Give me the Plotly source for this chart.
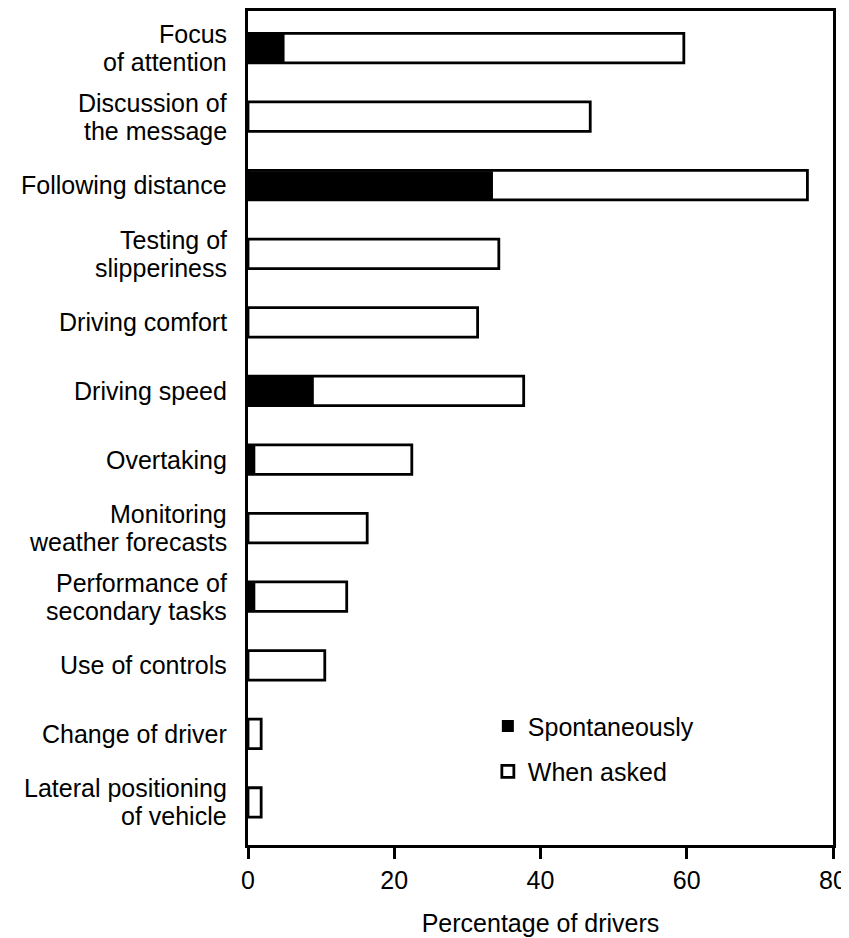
import plotly.graph_objects as go

categories = [
    "Focus<br>of attention",
    "Discussion of<br>the message",
    "Following distance",
    "Testing of<br>slipperiness",
    "Driving comfort",
    "Driving speed",
    "Overtaking",
    "Monitoring<br>weather forecasts",
    "Performance of<br>secondary tasks",
    "Use of controls",
    "Change of driver",
    "Lateral positioning<br>of vehicle",
]
# total percentage (when asked, includes spontaneous mentions)
when_asked = [59.6, 46.8, 76.5, 34.3, 31.4, 37.7, 22.4, 16.3, 13.5, 10.5, 1.8, 1.8]
spontaneously = [5, 0, 33.5, 0, 0, 9, 1, 0, 1, 0, 0, 0]
x_ticks = [0, 20, 40, 60, 80]

FONT = "Liberation Sans, Arial, Helvetica, sans-serif"
FS = 25
INK = "#000000"

fig = go.Figure()
fig.add_trace(go.Bar(
    y=categories, x=when_asked, orientation="h", name="When asked",
    marker=dict(color="white", line=dict(color=INK, width=2.8)),
    width=0.43, legendgroup="b", legendrank=2,
))
fig.add_trace(go.Bar(
    y=categories, x=spontaneously, orientation="h", name="Spontaneously",
    marker=dict(color=INK, line=dict(color=INK, width=0)),
    width=0.41, legendgroup="a", legendrank=1,
))

# y labels as per-line annotations (tight line spacing like the original)
annotations = []
for cat in categories:
    lines = cat.split("<br>")
    n = len(lines)
    for i, ln in enumerate(lines):
        annotations.append(dict(
            x=0, xref="paper", y=cat, yref="y", text=ln, showarrow=False,
            xanchor="right", yanchor="middle", xshift=-19,
            yshift=((n - 1) / 2 - i) * 28,
            font=dict(family=FONT, size=FS, color=INK),
        ))

# the page body adds an 8px offset, so the figure is 8px smaller
fig.update_layout(
    width=841, height=930,
    margin=dict(l=240, r=16, t=3, b=93),
    paper_bgcolor="white", plot_bgcolor="white",
    barmode="overlay",
    font=dict(family=FONT, size=FS, color=INK),
    annotations=annotations,
    showlegend=True,
    legend=dict(
        x=0.41, y=0.17, xanchor="left", yanchor="top",
        traceorder="grouped", tracegroupgap=10,
        font=dict(family=FONT, size=FS, color=INK),
        bgcolor="rgba(0,0,0,0)",
    ),
    xaxis=dict(
        range=[0, 80], tickvals=x_ticks, ticktext=[str(v) for v in x_ticks],
        showline=True, linecolor=INK, linewidth=3, mirror=True,
        ticks="outside", ticklen=11, tickwidth=2.5, tickcolor=INK,
        showgrid=False, zeroline=False, automargin=False,
        tickfont=dict(family=FONT, size=FS, color=INK),
        title=dict(text="Percentage of drivers", standoff=22,
                   font=dict(family=FONT, size=FS, color=INK)),
    ),
    xaxis2=dict(
        overlaying="x", matches="x", anchor="y", side="bottom",
        range=[0, 80], tickvals=x_ticks, showticklabels=False,
        ticks="inside", ticklen=12, tickwidth=2.5, tickcolor=INK,
        showline=False, showgrid=False, zeroline=False, automargin=False,
    ),
    yaxis=dict(
        categoryorder="array", categoryarray=categories,
        range=[11.62, -0.54], showticklabels=False, ticks="",
        showline=True, linecolor=INK, linewidth=3, mirror=True,
        showgrid=False, zeroline=False, automargin=False,
    ),
)

fig.write_html("out.html")
